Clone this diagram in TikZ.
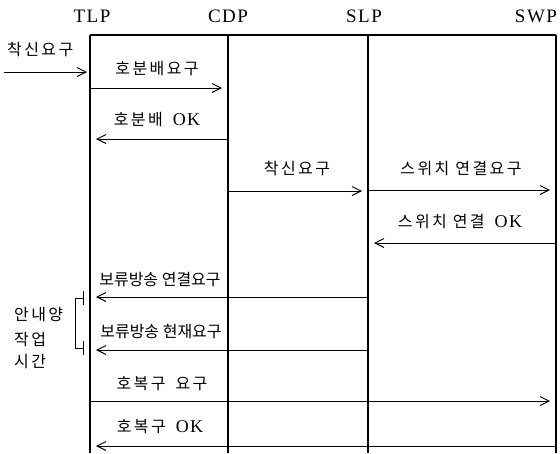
\documentclass[tikz,border=0pt]{standalone}
\usepackage{fontspec}
\setmainfont{Liberation Serif}
\newfontfamily\krfont[LetterSpace=15]{Noto Sans CJK KR}
\newfontfamily\krtight[LetterSpace=0]{Noto Sans CJK KR}
\newfontfamily\headfont[LetterSpace=8]{Liberation Serif}
\usetikzlibrary{arrows.meta,positioning}

\newcommand{\okword}{{\headfont\fontsize{18}{18}\selectfont OK}}

\tikzset{
  lane/.style={line width=1.2pt},
  msg/.style={line width=0.9pt,-{Straight Barb[length=9pt,width=9pt]},shorten >=6pt},
  lbl/.style={font=\krfont\fontsize{16}{18}\selectfont,inner sep=0pt},
  lbltight/.style={font=\krtight\fontsize{16}{18}\selectfont,inner sep=0pt},
  head/.style={font=\headfont\fontsize{19}{20}\selectfont,inner sep=0pt}
}

\begin{document}
\begin{tikzpicture}[x=1pt,y=-1pt]
    \useasboundingbox (0,0) rectangle (560,453);

    % Process names.
    \node[head] (TLP) at (92,16) {TLP};
    \node[head] (CDP) at (228,16) {CDP};
    \node[head] (SLP) at (364,16) {SLP};
    \node[head] (SWP) at (536,16) {SWP};

    % Lifelines.
    \coordinate (tlpTop) at (90,35);
    \coordinate (cdpTop) at (228,35);
    \coordinate (slpTop) at (368,35);
    \coordinate (swpTop) at (556,35);
    \foreach \p in {tlp,cdp,slp,swp}
        \draw[lane] (\p Top) -- (\p Top |- 0,453);
    \draw[lane] (tlpTop) -- (swpTop);

    % Incoming call.
    \coordinate (inStart) at (4,72);
    \draw[msg,shorten >=3pt] (inStart) -- (tlpTop |- inStart);
    \node[lbl,anchor=west] (inLbl) at (7,49) {착신요구};

    % TLP <-> CDP.
    \draw[msg] (tlpTop |- 0,88) -- (cdpTop |- 0,88);
    \node[lbl] (distReq) at (157,69) {호분배요구};
    \draw[msg] (cdpTop |- 0,139) -- (tlpTop |- 0,139);
    \node[lbl] (distOk) at (157,120) {호분배\hspace{10pt}\okword};

    % CDP -> SLP -> SWP.
    \draw[msg] (cdpTop |- 0,191) -- (slpTop |- 0,191);
    \node[lbl] (callReq) at (297,168) {착신요구};
    \draw[msg] (slpTop |- 0,190) -- (swpTop |- 0,190);
    \node[lbl] (swReq) at (461,169) {스위치 연결요구};
    \draw[msg] (swpTop |- 0,243) -- (slpTop |- 0,243);
    \node[lbl] (swOk) at (460,222) {스위치 연결\hspace{10pt}\okword};

    % Hold announcement.
    \draw[msg] (slpTop |- 0,297) -- (tlpTop |- 0,297);
    \node[lbltight] (holdConn) at (160,280) {보류방송 연결요구};
    \draw[msg] (slpTop |- 0,350) -- (tlpTop |- 0,350);
    \node[lbltight] (holdNow) at (161,332) {보류방송 현재요구};

    % Bracket for guide time.
    \draw[line width=0.9pt] (83,291) -- (83,305);
    \draw[line width=0.9pt] (83,298) -- (75,298) -- (75,348) -- (83,348);
    \draw[line width=0.9pt] (83,341) -- (83,355);
    \node[lbl,anchor=west] (guide1) at (14,315) {안내양};
    \node[lbl,anchor=west] (guide2) at (14,340) {작업};
    \node[lbl,anchor=west] (guide3) at (14,362) {시간};

    % Call release.
    \draw[msg] (tlpTop |- 0,401) -- (swpTop |- 0,401);
    \node[lbl] (relReq) at (162,384) {호복구\hspace{10pt}요구};
    \draw[msg] (swpTop |- 0,446) -- (tlpTop |- 0,446);
    \node[lbl] (relOk) at (160,427) {호복구\hspace{10pt}\okword};
\end{tikzpicture}
\end{document}
